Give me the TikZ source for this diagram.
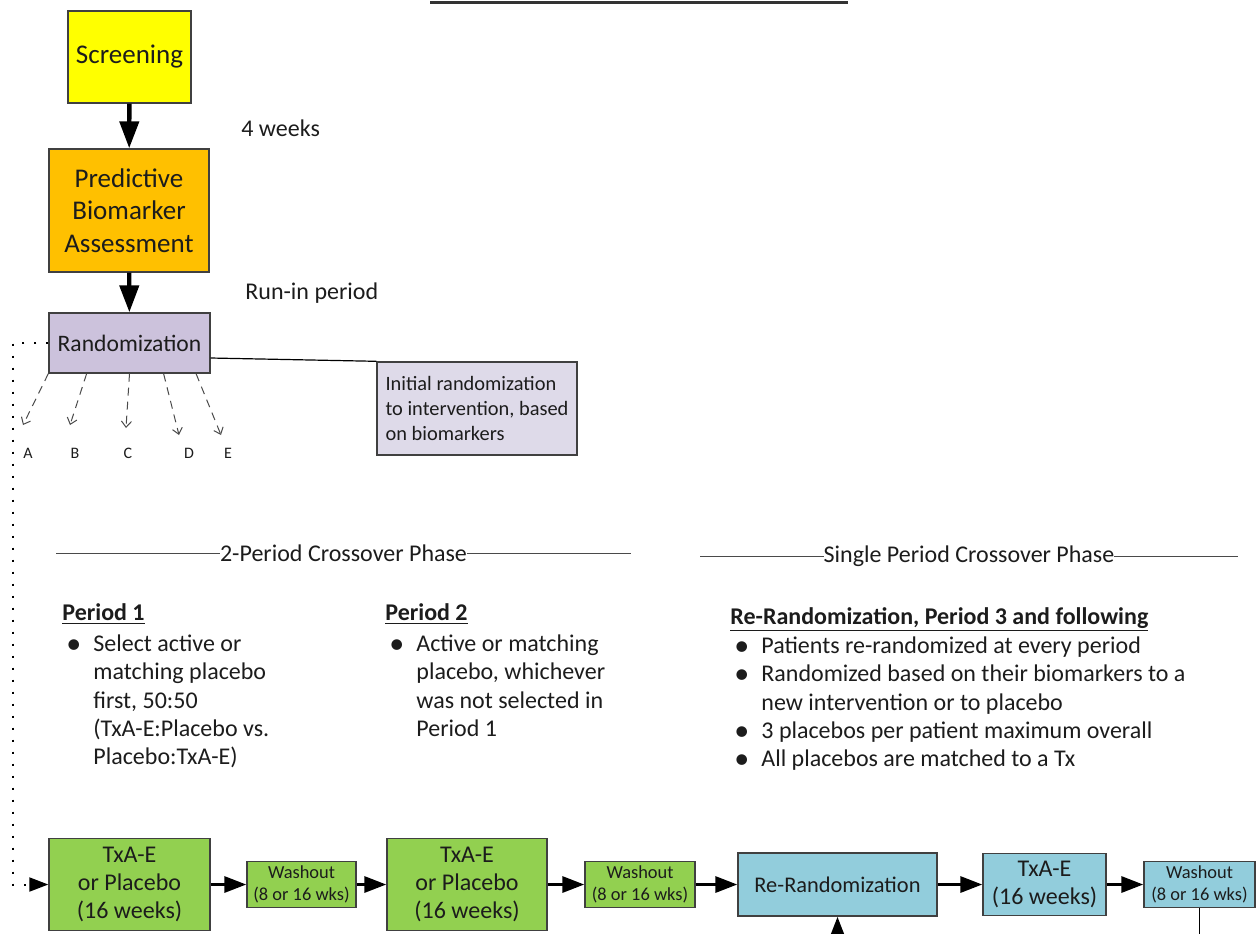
\documentclass[tikz,border=0pt]{standalone}
\usepackage{fontspec}
\setmainfont{Carlito}
\usepackage{xcolor}
\usetikzlibrary{arrows.meta,calc}

\definecolor{scryellow}{HTML}{FFFF00}
\definecolor{bioorange}{HTML}{FFC000}
\definecolor{randlav}{HTML}{CCC2DC}
\definecolor{notelav}{HTML}{DEDAE9}
\definecolor{txgreen}{HTML}{92D050}
\definecolor{rrblue}{HTML}{92CDDC}
\definecolor{boxline}{HTML}{404040}
\definecolor{linegray}{HTML}{4A4A4A}
\definecolor{textdark}{HTML}{1C1C1C}

\newcommand{\fs}[2]{\fontsize{#1}{#2}\selectfont}
\newcommand{\hdr}[1]{\multicolumn{2}{@{}l@{}}{\underline{\textbf{#1}}}}
\newcommand{\bul}{\raisebox{-0.9pt}{\fontsize{15}{14}\selectfont\textbullet}}

\begin{document}
\begin{tikzpicture}[x=0.5pt, y=-0.5pt, text=textdark,
    box/.style={draw=boxline, line width=0.7pt, align=center, inner sep=0pt},
    bigarrow/.style={-{Triangle[length=13.5pt,width=9.5pt]}, line width=2.2pt},
    flow/.style={-{Triangle[length=11pt,width=8pt]}, line width=1.6pt},
    randarrow/.style={-{Straight Barb[length=3pt,width=5pt]}, dash pattern=on 4pt off 3pt, line width=0.5pt, draw=linegray},
    dotline/.style={dash pattern=on 1pt off 5pt, line width=1pt},
    phaseline/.style={line width=0.5pt, draw=linegray},
    phase/.style={fill=white, inner xsep=0pt, inner ysep=1pt, font=\fs{12}{14}},
    label/.style={inner sep=0pt, anchor=west, font=\fs{12}{14}},
    letter/.style={inner sep=0pt, font=\fs{8}{9}},
    plist/.style={inner sep=0pt, anchor=base west, align=left, font=\fs{12}{14.2}}]

    \useasboundingbox (0,0) rectangle (1256,933);

    % Top rule
    \draw[line width=1.5pt, draw=black!80] (430,2.5) -- (848,2.5);

    % Screening and run-in
    \node[box, fill=scryellow, minimum width=61.5pt, minimum height=46pt, font=\fs{13.5}{16}] (screen) at (129.5,57) {Screening};
    \node[box, fill=bioorange, minimum width=80pt, minimum height=61.5pt, font=\fs{13.5}{16.3}] (biomark) at (129,210.5) {Predictive\\Biomarker\\Assessment};
    \node[box, fill=randlav, minimum width=80.5pt, minimum height=30pt, font=\fs{11.8}{14}] (rand) at (129.5,343) {Randomization};
    \node[box, fill=notelav, minimum width=100pt, minimum height=46.5pt, align=left, font=\fs{10.2}{12.6}] (note) at (477,408.5) {Initial randomization\\to intervention, based\\on biomarkers};

    \draw[bigarrow] (screen) -- (biomark);
    \draw[bigarrow] (biomark) -- (rand);
    \node[label] (wks) at (241,128) {4 weeks};
    \node[label] (runin) at (245,293) {Run-in period};
    \draw[line width=0.6pt] ($(rand.east)+(0,15)$) -- (note.north west);

    % Initial arms
    \foreach \arm/\frac/\tx/\ty/\lx in {A/0/23/425/28, B/0.236/70/425/75, C/0.5/126/428/128, D/0.71/179/435/189, E/0.91/221/435/228} {
        \coordinate (tip\arm) at (\tx,\ty);
        \node[letter] (arm\arm) at (\lx,453) {\arm};
        \draw[randarrow] ($(rand.south west)!\frac!(rand.south east)$) -- (tip\arm);
    }

    % Phase headers
    \coordinate (phAl) at (56,553);
    \coordinate (phAr) at (631,553);
    \draw[phaseline] (phAl) -- (phAr);
    \node[phase] (phA) at ($(phAl)!0.5!(phAr)$) {2-Period Crossover Phase};
    \coordinate (phBl) at (700,556);
    \coordinate (phBr) at (1238,556);
    \draw[phaseline] (phBl) -- (phBr);
    \node[phase] (phB) at ($(phBl)!0.5!(phBr)$) {Single Period Crossover Phase};

    % Period texts
    \node[plist] (per1) at (62,620) {\begin{tabular}[t]{@{\hspace{2pt}}p{13.5pt}@{}l@{}}
        \hdr{Period 1}\\[1.4pt]
        \bul & Select active or\\
        & matching placebo\\
        & first, 50:50\\
        & (TxA-E:Placebo vs.\\
        & Placebo:TxA-E)
    \end{tabular}};
    \node[plist] (per2) at (385,620) {\begin{tabular}[t]{@{\hspace{2pt}}p{13.5pt}@{}l@{}}
        \hdr{Period 2}\\[1.4pt]
        \bul & Active or matching\\
        & placebo, whichever\\
        & was not selected in\\
        & Period 1
    \end{tabular}};
    \node[plist] (per3) at (730,624) {\begin{tabular}[t]{@{\hspace{2pt}}p{13.5pt}@{}l@{}}
        \hdr{Re-Randomization, Period 3 and following}\\[0.4pt]
        \bul & Patients re-randomized at every period\\
        \bul & Randomized based on their biomarkers to a\\
        & new intervention or to placebo\\
        \bul & 3 placebos per patient maximum overall\\
        \bul & All placebos are matched to a Tx
    \end{tabular}};

    % Treatment row
    \node[box, fill=txgreen, minimum width=80.5pt, minimum height=46pt, font=\fs{12}{13.8}] (txA) at (129.5,884.5) {TxA-E\\or Placebo\\(16 weeks)};
    \node[box, fill=txgreen, minimum width=54.5pt, minimum height=23pt, font=\fs{9.2}{11}] (washA) at (301.5,884.5) {Washout\\(8 or 16 wks)};
    \node[box, fill=txgreen, minimum width=80pt, minimum height=46pt, font=\fs{12}{13.8}] (txB) at (467,884.5) {TxA-E\\or Placebo\\(16 weeks)};
    \node[box, fill=txgreen, minimum width=55pt, minimum height=23pt, font=\fs{9.2}{11}] (washB) at (640,884.5) {Washout\\(8 or 16 wks)};
    \node[box, fill=rrblue, minimum width=99.5pt, minimum height=31.5pt, font=\fs{11.2}{13}] (rerand) at (837.5,884.5) {Re-Randomization};
    \node[box, fill=rrblue, minimum width=61.5pt, minimum height=31pt, font=\fs{12}{13.6}] (txC) at (1044.5,884.5) {TxA-E\\(16 weeks)};
    \node[box, fill=rrblue, minimum width=55.5pt, minimum height=23pt, font=\fs{9.2}{11}] (washC) at (1199.5,884.5) {Washout\\(8 or 16 wks)};

    \draw[flow] (txA) -- (washA);
    \draw[flow] (washA) -- (txB);
    \draw[flow] (txB) -- (washB);
    \draw[flow] (washB) -- (rerand);
    \draw[flow] (rerand) -- (txC);
    \draw[flow] (txC) -- (washC);

    % Loop back and feeds
    \coordinate (loopA) at (13,343);
    \coordinate (loopB) at (13,884.5);
    \draw[dotline, -{Triangle[length=9.5pt,width=7pt]}] (rand.west) -- (loopA) -- (loopB) -- (txA.west);
    \coordinate (feed) at (837.5,950);
    \draw[flow] (feed) -- (rerand.south);
    \coordinate (drop) at (1199.5,950);
    \draw[line width=0.6pt] (washC.south) -- (drop);
\end{tikzpicture}
\end{document}
